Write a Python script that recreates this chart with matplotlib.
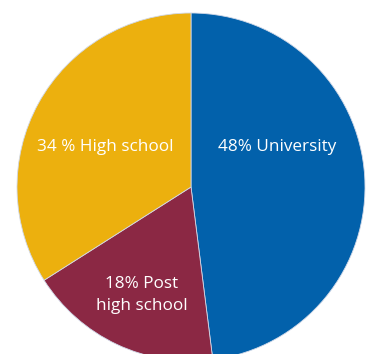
import matplotlib
matplotlib.use("Agg")
import matplotlib.pyplot as plt

categories = ["University", "Post high school", "High school"]
values = [48, 18, 34]
colors = ["#0261AB", "#8B2844", "#ECB00E"]
# label lines and their baseline positions (data coords, radius=1)
label_lines = [
    ("48% University", 0.494, 0.207),
    ("18% Post", -0.282, -0.580),
    ("high school", -0.282, -0.707),
    ("34 % High school", -0.494, 0.207),
]

W, H = 368, 354
cx, cy, r = 191, 187, 174
fig = plt.figure(figsize=(W / 100, H / 100), dpi=100)
ax = fig.add_axes([(cx - r) / W, (H - cy - r) / H, 2 * r / W, 2 * r / H])
ax.pie(values, colors=colors, startangle=90, counterclock=False, radius=1,
       wedgeprops=dict(linewidth=0.6, edgecolor="#d0d8e8"), frame=False)
ax.set_xlim(-1, 1)
ax.set_ylim(-1, 1)
ax.set_aspect("auto")
ax.axis("off")
for lab, x, y in label_lines:
    ax.text(x, y, lab, color="white", ha="center", va="baseline",
            fontsize=12.3, family="Open Sans")
fig.savefig("out.png", dpi=100)
